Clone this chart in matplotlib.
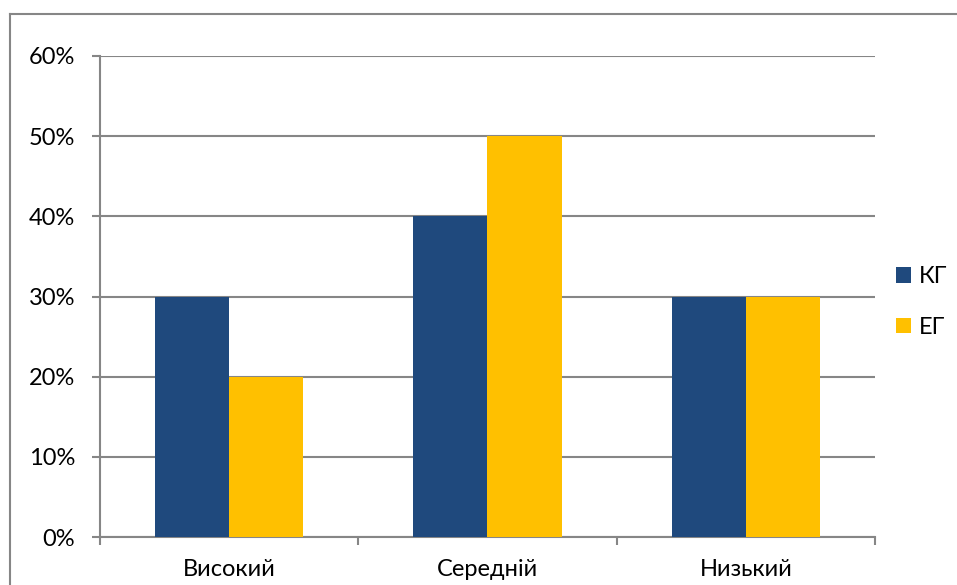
import matplotlib
matplotlib.use("Agg")
import matplotlib.pyplot as plt
import numpy as np
from matplotlib.lines import Line2D

categories = ["Високий", "Середній", "Низький"]
series_names = ["КГ", "ЕГ"]
kg_values = [30, 40, 30]
eg_values = [20, 50, 30]
y_ticks = [0, 10, 20, 30, 40, 50, 60]

colors = ["#1F497D", "#FFC000"]
grid_color = "#868686"
fs = 17

plt.rcParams['font.family'] = ['Lato', 'DejaVu Sans']

fig = plt.figure(figsize=(9.57, 5.85), dpi=100)
ax = fig.add_axes([100/957, 1-537/585, (875-100)/957, (537-56)/585])

x = np.arange(len(categories))
w = 0.287
ax.bar(x - w/2, kg_values, width=w, color=colors[0], label=series_names[0], zorder=3)
ax.bar(x + w/2, eg_values, width=w, color=colors[1], label=series_names[1], zorder=3)

ax.set_xlim(-0.5, len(categories) - 0.5)
ax.set_ylim(0, 60)
ax.set_yticks(y_ticks)
ax.set_yticklabels([f"{v}%" for v in y_ticks])
ax.yaxis.grid(True, color=grid_color, linewidth=1.5, zorder=0)
ax.set_axisbelow(True)

# x: major ticks at boundaries (no labels), minor at centers (labels)
ax.set_xticks(np.arange(len(categories) + 1) - 0.5)
ax.set_xticklabels([])
ax.set_xticks(x, minor=True)
ax.set_xticklabels(categories, minor=True)
ax.tick_params(axis='x', which='major', length=6, width=1.5, color=grid_color, direction='out')
ax.tick_params(axis='x', which='minor', length=0, pad=16, labelsize=fs)
ax.tick_params(axis='y', length=6, width=1.5, color=grid_color, pad=12, labelsize=fs)

for s in ['top', 'right']:
    ax.spines[s].set_visible(False)
for s in ['left', 'bottom']:
    ax.spines[s].set_color(grid_color)
    ax.spines[s].set_linewidth(1.5)

leg = fig.legend(loc='center left', bbox_to_anchor=(896/957, 1-302/585), frameon=False,
                 fontsize=fs, handlelength=0.65, handleheight=0.65,
                 handletextpad=0.3, labelspacing=1.25, borderpad=0, borderaxespad=0)

# chart area border (left and top edges visible)
fig.add_artist(Line2D([10/957, 10/957], [0, 1-14/585], transform=fig.transFigure,
                      color=grid_color, linewidth=1.5))
fig.add_artist(Line2D([10/957, 1], [1-14/585, 1-14/585], transform=fig.transFigure,
                      color=grid_color, linewidth=1.5))

fig.savefig("out.png", dpi=100)
